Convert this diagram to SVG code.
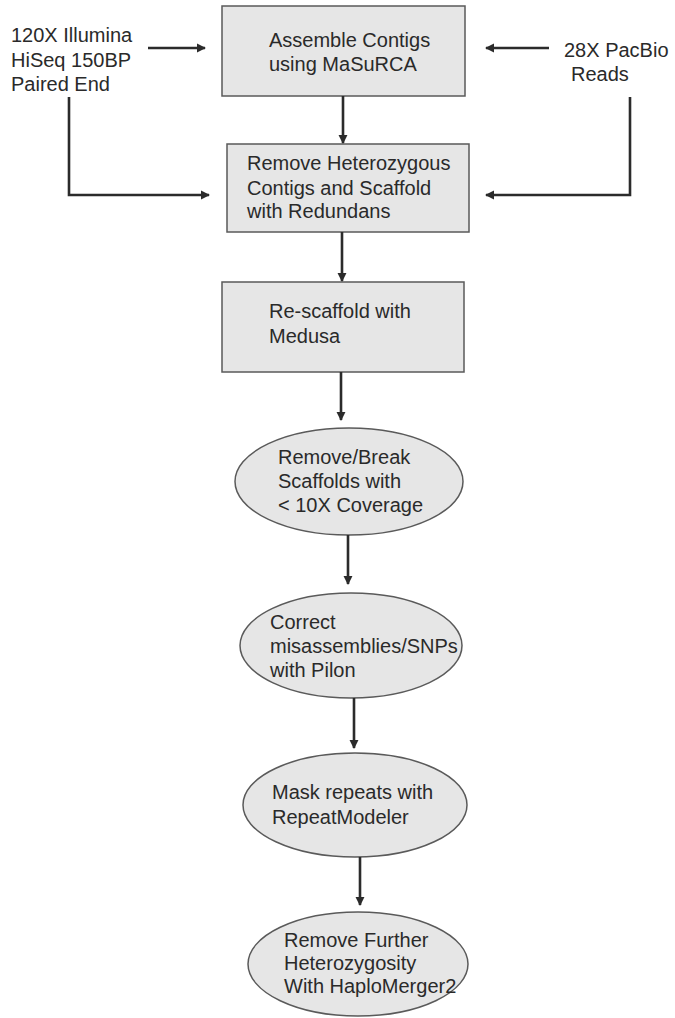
<svg xmlns="http://www.w3.org/2000/svg" width="675" height="1018" viewBox="0 0 675 1018">
<defs>
<marker id="ah" viewBox="0 0 10 10" refX="9" refY="5" markerWidth="3.6" markerHeight="3.6" orient="auto" markerUnits="strokeWidth">
<path d="M0,0 L10,5 L0,10 z" fill="#2b2b2b"/>
</marker>
<style>
.box{fill:#e6e6e6;stroke:#5a5a5a;stroke-width:1.5}
.t{font-family:"Liberation Sans",Arial,sans-serif;font-size:20px;fill:#2a2a2a}
.c{fill:none;stroke:#2b2b2b;stroke-width:2.6;marker-end:url(#ah)}
</style>
</defs>
<rect width="675" height="1018" fill="#ffffff"/>
<g id="illumina"><text class="t" x="11" y="42">120X Illumina</text><text class="t" x="11" y="67">HiSeq 150BP</text><text class="t" x="11" y="91">Paired End</text></g>
<g id="pacbio"><text class="t" x="564" y="57">28X PacBio</text><text class="t" x="571" y="81">Reads</text></g>
<g id="assemble"><rect class="box" x="222" y="6" width="243" height="90"/><text class="t" x="269" y="47">Assemble Contigs</text><text class="t" x="269" y="71">using MaSuRCA</text></g>
<g id="redundans"><rect class="box" x="227" y="144" width="242" height="88"/><text class="t" x="247" y="170">Remove Heterozygous</text><text class="t" x="247" y="195">Contigs and Scaffold</text><text class="t" x="247" y="218">with Redundans</text></g>
<g id="medusa"><rect class="box" x="222" y="282" width="242" height="90"/><text class="t" x="269" y="318">Re-scaffold with</text><text class="t" x="269" y="343">Medusa</text></g>
<g id="coverage"><ellipse class="box" cx="349" cy="481.5" rx="114" ry="53.5"/><text class="t" x="278" y="464">Remove/Break</text><text class="t" x="278" y="488">Scaffolds with</text><text class="t" x="278" y="512">&lt; 10X Coverage</text></g>
<g id="pilon"><ellipse class="box" cx="351" cy="645.5" rx="111" ry="52.5"/><text class="t" x="270" y="629">Correct</text><text class="t" x="270" y="653">misassemblies/SNPs</text><text class="t" x="270" y="677">with Pilon</text></g>
<g id="repeat"><ellipse class="box" cx="355" cy="805" rx="112" ry="52"/><text class="t" x="272" y="799">Mask repeats with</text><text class="t" x="272" y="824">RepeatModeler</text></g>
<g id="haplo"><ellipse class="box" cx="358" cy="964" rx="110" ry="52"/><text class="t" x="284" y="947">Remove Further</text><text class="t" x="284" y="970">Heterozygosity</text><text class="t" x="284" y="993">With HaploMerger2</text></g>
<g id="connectors">
<path class="c" d="M148,48 H205"/>
<path class="c" d="M549,48 H486"/>
<path class="c" d="M69,97 V195 H209"/>
<path class="c" d="M630,97 V195 H486"/>
<path class="c" d="M343,96 V143"/>
<path class="c" d="M342,232 V281"/>
<path class="c" d="M341,372 V420"/>
<path class="c" d="M348,535 V584"/>
<path class="c" d="M354,698 V748"/>
<path class="c" d="M360,857 V905"/>
</g>
</svg>
